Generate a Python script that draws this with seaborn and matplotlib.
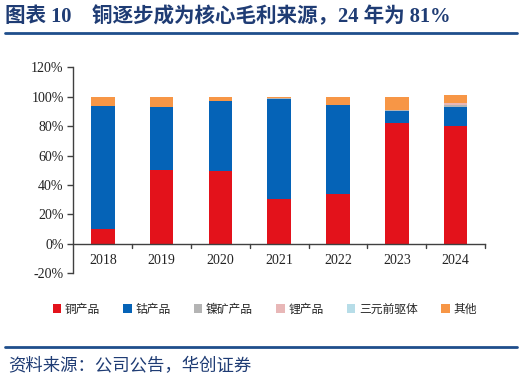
import matplotlib
matplotlib.use("Agg")
import matplotlib.pyplot as plt
import seaborn as sns
import pandas as pd
import numpy as np
from matplotlib.patches import Patch
from matplotlib.lines import Line2D

years = ["2018", "2019", "2020", "2021", "2022", "2023", "2024"]
copper = [10.0, 50.0, 49.3, 30.5, 34.0, 82.4, 80.3]
cobalt = [83.9, 43.0, 48.0, 68.1, 60.4, 8.1, 12.9]
nickel = [0.0, 0.0, 0.0, 0.4, 0.0, 0.8, 1.5]
lithium = [0.0, 0.0, 0.0, 0.0, 0.0, 0.0, 1.3]
precursor = [0.0, 0.0, 0.0, 0.0, 0.0, 0.0, 0.0]
other = [6.1, 7.0, 2.7, 1.0, 5.6, 8.7, 5.5]

series_names = ["铜产品", "钴产品", "镍矿产品", "锂产品", "三元前驱体", "其他"]
series_vals = [copper, cobalt, nickel, lithium, precursor, other]
colors = ["#E3121B", "#0563B7", "#B4B4B4", "#E8B7B7", "#B7DDE8", "#F79646"]

sns.set_theme(style="white")
plt.rcParams['font.family'] = ['Liberation Serif', 'Noto Sans CJK SC', 'DejaVu Sans']

fig = plt.figure(figsize=(5.24, 3.82), dpi=100)
ax = fig.add_axes([0.14, 0.2846, 0.7856, 0.5392])

cum = np.cumsum(np.array(series_vals), axis=0)
# draw from top layer down so lower layers overlay
for i in range(len(series_names) - 1, -1, -1):
    df = pd.DataFrame({"year": years, "val": cum[i]})
    sns.barplot(data=df, x="year", y="val", color=colors[i], width=0.4,
                saturation=1, ax=ax, edgecolor="none", linewidth=0)

ax.set_xlim(-0.5, 6.5)
ax.set_ylim(-20, 120)
ax.set_yticks(range(-20, 121, 20))
ax.set_yticklabels([f"{v}%" for v in range(-20, 121, 20)])
ax.set_xlabel("")
ax.set_ylabel("")
for s in ["top", "right"]:
    ax.spines[s].set_visible(False)
ax.spines["bottom"].set_position(("data", 0))
ax.spines["bottom"].set_color("#404040")
ax.spines["bottom"].set_linewidth(1.0)
ax.spines["bottom"].set_zorder(5)
ax.spines["left"].set_color("#404040")
ax.spines["left"].set_linewidth(1.0)
ax.tick_params(axis="y", left=True, length=4, width=1.0, color="#404040",
               labelsize=10, labelcolor="#222222", pad=3)
ax.tick_params(axis="x", bottom=False, length=0, labelsize=10, labelcolor="#222222", pad=7)
for b in np.arange(0.5, 7.0, 1.0):
    ax.plot([b, b], [0, -2.8], color="#404040", lw=1.0, clip_on=False, zorder=5)

handles = [Patch(facecolor=c, edgecolor="none") for c in colors]
fig.legend(handles, series_names, loc="center", bbox_to_anchor=(0.505, 0.191),
           ncol=6, frameon=False, prop={"family": ["Noto Sans CJK SC"], "size": 8.5},
           handlelength=0.7, handleheight=0.7, handletextpad=0.3, columnspacing=2.0)

title_color = "#1F3C74"
fig.text(0.01, 0.955, "图表 10    铜逐步成为核心毛利来源，24 年为 81%", color=title_color,
         fontsize=14.8, fontweight="bold", va="center", ha="left")
fig.add_artist(Line2D([0.01, 0.987], [0.913, 0.913], color="#1F4E8C", lw=2.0))
fig.add_artist(Line2D([0.01, 0.987], [0.092, 0.092], color="#1F4E8C", lw=2.0))
fig.text(0.015, 0.04, "资料来源：公司公告，华创证券", color="#1F3C74", fontsize=12.5,
         fontstyle="italic", va="center", ha="left")

fig.savefig("out.png", dpi=100)
